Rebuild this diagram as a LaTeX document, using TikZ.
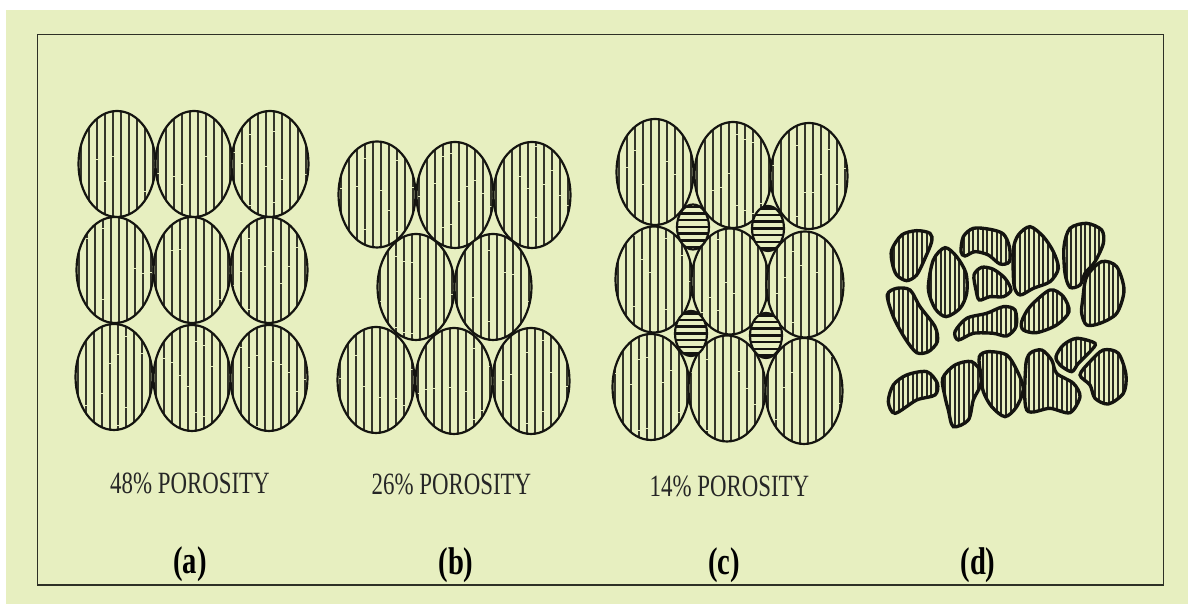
\documentclass[tikz,border=0pt]{standalone}
\usepackage{fontspec}
\setmainfont{Liberation Serif}[FakeStretch=.74]
\definecolor{sfondo}{HTML}{E7EFC0}
\definecolor{inchiostro}{HTML}{141410}
\tikzset{
  bordo/.style={draw=inchiostro,line width=.62pt},
  righe/.style={draw=inchiostro!85!sfondo,line width=.45pt},
  righine/.style={draw=inchiostro!90!sfondo,line width=.55pt},
  didascalia/.style={font=\fontsize{8.8}{10}\selectfont,text=black!85,inner sep=0pt},
  lettera/.style={font=\fontsize{11}{12}\selectfont\bfseries,text=black,inner sep=0pt}
}
\pgfmathsetseed{7}
% Sfera piena con righe verticali
\newcommand{\sfera}[2]{%
  \fill[sfondo] (#1,#2) ellipse (.385 and .53);
  \begin{scope}
    \clip (#1,#2) ellipse (.385 and .53);
    \foreach \d in {-.36,-.28,...,.37} {
      \pgfmathsetmacro{\fase}{rnd*20}
      \draw[righe,dash pattern=on 20pt off .2pt,dash phase=\fase pt] ({#1+\d},{#2-.55}) -- ({#1+\d},{#2+.55});
    }
  \end{scope}
  \draw[bordo] (#1,#2) ellipse (.385 and .53);
}
% Grana piccola con righe orizzontali
\newcommand{\lente}[2]{%
  \fill[sfondo] (#1,#2) ellipse (.16 and .225);
  \begin{scope}
    \clip (#1,#2) ellipse (.16 and .225);
    \foreach \d in {-.2,-.133,...,.21}
      \draw[inchiostro,line width=.7pt] ({#1-.2},{#2+\d}) -- ({#1+.2},{#2+\d});
  \end{scope}
  \draw[bordo] (#1,#2) ellipse (.16 and .225);
}
% Granulo irregolare, contorno dato per punti
\newcommand{\granulo}[1]{%
  \begin{scope}
    \clip plot[smooth cycle] coordinates {#1};
    \foreach \x in {60,74,...,810}
      \draw[righine] (\x,0) -- (\x,690);
  \end{scope}
  \draw[inchiostro,line width=.95pt] plot[smooth cycle] coordinates {#1};
}
\begin{document}
\begin{tikzpicture}

        % Pagina e riquadro
        \useasboundingbox (0,0) rectangle (11.88,6.04);
        \fill[sfondo] (.06,0) rectangle (11.88,5.94);
        \draw[draw=black!80!sfondo,line width=.5pt] (.375,.19) rectangle (11.635,5.695);

        % Schema (a)
        \foreach \cx/\cy in {1.17/4.40,1.94/4.40,2.70/4.40,
                             1.15/3.34,1.92/3.34,2.69/3.34,
                             1.14/2.27,1.92/2.26,2.69/2.26}
          \sfera{\cx}{\cy};

        % Schema (b)
        \foreach \cx/\cy in {3.77/4.095,4.55/4.09,5.32/4.09,
                             3.76/2.24,5.31/2.23,
                             4.16/3.17,4.93/3.17,
                             4.54/2.23}
          \sfera{\cx}{\cy};

        % Schema (c)
        \foreach \cx/\cy in {6.55/4.32,7.33/4.29,8.09/4.28,
                             6.51/2.17,7.27/2.155,8.04/2.13,
                             6.54/3.245,7.30/3.225,8.05/3.195}
          \sfera{\cx}{\cy};
        \foreach \cx/\cy in {6.93/3.77,7.68/3.755,6.91/2.705,7.66/2.685}
          \lente{\cx}{\cy};

        % Schema (d)
        \begin{scope}[shift={(8.6,3.94)},x=.033333mm,y=-.033333mm]
          \granulo{(95,120)(125,75)(170,62)(210,70)(215,95)(195,145)(170,195)(140,212)(110,195)(97,160)}
          \granulo{(205,235)(220,150)(255,113)(290,140)(318,190)(320,250)(300,295)(258,320)(225,295)}
          \granulo{(303,125)(310,80)(340,55)(390,58)(430,72)(448,110)(448,155)(420,162)(385,135)(345,125)(315,138)}
          \granulo{(342,195)(365,172)(400,178)(435,205)(453,240)(430,260)(390,260)(358,270)(348,240)}
          \granulo{(460,120)(475,75)(510,50)(550,80)(580,125)(595,175)(570,215)(520,235)(480,255)(462,225)}
          \granulo{(612,110)(630,55)(680,40)(725,60)(730,100)(705,155)(675,190)(660,225)(630,232)(615,190)}
          \granulo{(668,270)(680,200)(725,155)(770,170)(792,240)(770,310)(720,340)(680,345)(665,310)}
          \granulo{(82,255)(110,235)(150,240)(180,290)(225,350)(232,395)(205,425)(170,428)(135,385)(100,320)}
          \granulo{(285,365)(320,325)(380,310)(430,290)(465,300)(468,350)(440,378)(400,370)(340,370)(295,390)}
          \granulo{(485,335)(510,290)(570,240)(610,260)(627,305)(590,345)(530,368)(490,360)}
          \granulo{(85,575)(100,525)(140,495)(200,485)(232,520)(225,555)(170,570)(105,610)}
          \granulo{(248,505)(285,465)(335,455)(365,490)(360,530)(340,570)(325,630)(280,650)(265,600)(255,560)}
          \granulo{(358,440)(385,425)(440,435)(470,480)(490,535)(470,590)(435,620)(395,590)(370,545)(362,495)}
          \granulo{(497,470)(510,430)(545,420)(575,450)(590,490)(640,520)(660,560)(630,608)(570,595)(500,600)}
          \granulo{(588,440)(610,405)(650,385)(705,400)(690,425)(655,460)(635,485)(600,465)}
          \granulo{(660,495)(690,455)(730,420)(775,430)(798,495)(790,550)(745,582)(705,565)(690,525)}
        \end{scope}

        % Valori di porosita
        \node[didascalia] (por48) at (1.90,1.21) {48\% POROSITY};
        \node[didascalia] (por26) at (4.515,1.20) {26\% POROSITY};
        \node[didascalia] (por14) at (7.295,1.18) {14\% POROSITY};

        % Lettere in basso
        \node[lettera] (leta) at (1.90,.40) {(a)};
        \node[lettera] (letb) at (4.56,.39) {(b)};
        \node[lettera] (letc) at (7.24,.39) {(c)};
        \node[lettera] (letd) at (9.78,.39) {(d)};

\end{tikzpicture}
\end{document}
